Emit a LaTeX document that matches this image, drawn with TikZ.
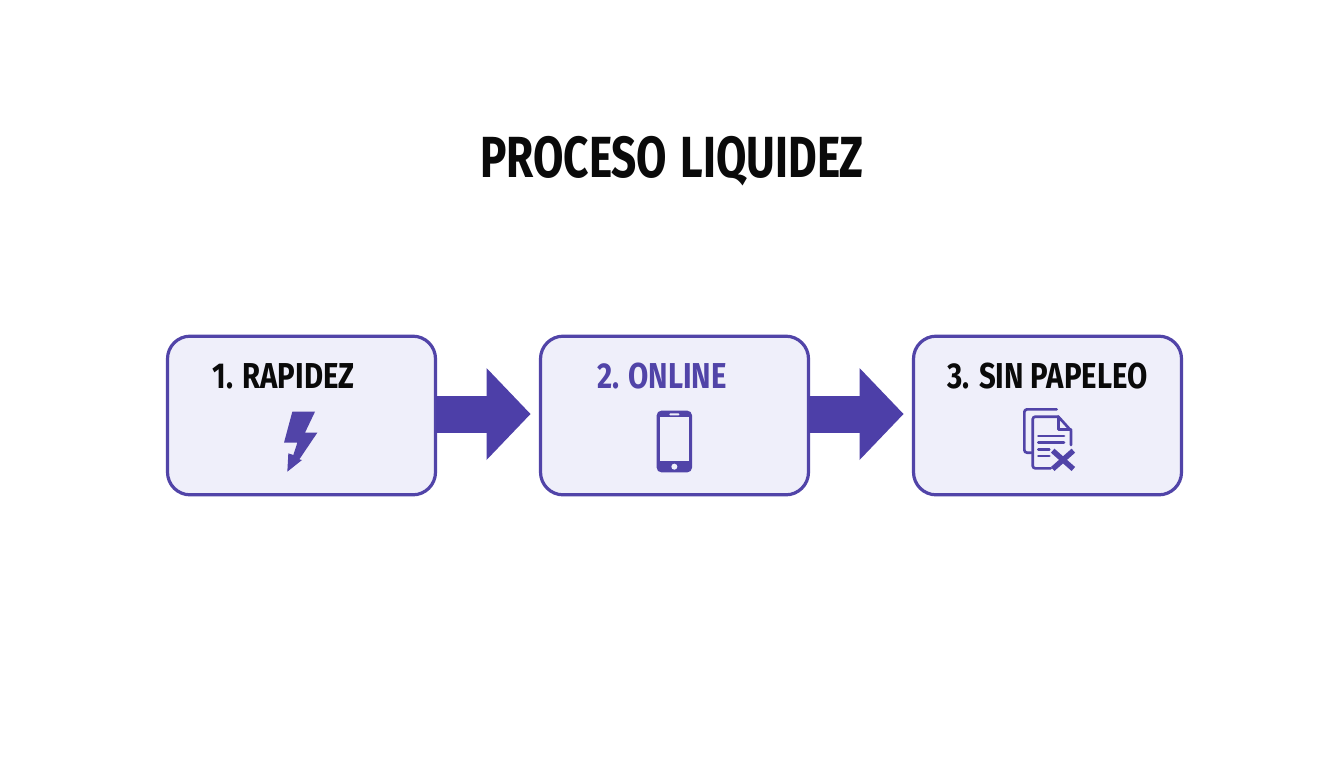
\documentclass[tikz,border=0pt]{standalone}
\usepackage{fontspec}
\setmainfont{Fira Sans}
\newfontfamily\condbold[FakeStretch=0.815]{Fira Sans Bold}
\newfontfamily\titlebold[FakeStretch=0.76,WordSpace=1.3]{Fira Sans Bold}
\usetikzlibrary{arrows.meta,calc}
\definecolor{pv}{HTML}{5144A8}
\definecolor{pfill}{HTML}{EFEFFA}
\definecolor{parrow}{HTML}{4D3FA8}
\definecolor{ink}{HTML}{0A0A0A}
\tikzset{
  card/.style={draw=pv,fill=pfill,line width=2.4pt,rounded corners=17pt,minimum width=201pt,minimum height=119pt,inner sep=0pt,outer sep=0pt},
  cardtext/.style={anchor=base,font=\condbold\fontsize{27}{27}\selectfont,inner sep=0pt,text=ink},
  flow/.style={parrow,line width=27.75pt,-{Triangle[length=33pt,width=69pt,line width=0pt]},shorten >=7.5pt},
  ico/.style={x=.25pt,y=-.25pt},
  docline/.style={draw=pv,line width=2pt,line cap=round,line join=round}
}
\begin{document}
\begin{tikzpicture}[x=.75pt,y=-.75pt]
\useasboundingbox (0,0) rectangle (1344,768);
\fill[white!99!pfill] (0,0) rectangle (1344,768);
\node[anchor=base,font=\titlebold\fontsize{43.5}{43.5}\selectfont,inner sep=0pt,text=ink] (title) at (672,177) {PROCESO LIQUIDEZ};
\node[card] (b1) at (301.5,415.5) {};
\node[card] (b2) at (674.5,415.5) {};
\node[card] (b3) at (1047.5,415.5) {};
\draw[flow] ($(b1.east)+(0,-1.5)$) -- ($(b2.west)+(0,-1.5)$);
\draw[flow] ($(b2.east)+(0,-1.5)$) -- ($(b3.west)+(0,-1.5)$);
\node[cardtext] (t1) at (283.5,388) {1. RAPIDEZ};
\node[cardtext,text=pv] (t2) at (662,388) {2. ONLINE};
\node[cardtext] (t3) at (1047.5,388) {3. SIN PAPELEO};
% bolt
\begin{scope}[shift={(260,400)},ico]
\fill[pv] (97,35)--(165,35)--(135,98)--(172,98)--(118,178)--(126,180)--(82,215)--(85,160)--(100,165)--(112,128)--(72,128)--cycle;
\end{scope}
% phone
\begin{scope}[shift={(630,400)},ico]
\fill[pv,rounded corners=3.5pt] (80,32) rectangle (186,217);
\fill[pfill] (90,50) rectangle (177,184);
\fill[pfill,rounded corners=.7pt] (118,40) rectangle (148,46);
\fill[pfill] (133,200) circle[radius=9];
\end{scope}
% document
\begin{scope}[shift={(1010,400)},ico]
\draw[docline,rounded corners=2pt] (140,28)--(43,28)--(43,158)--(64,158);
\draw[docline,rounded corners=2pt] (122,205)--(68,205)--(68,50)--(145,50);
\draw[docline] (145,50)--(183,92)--(183,135);
\draw[docline] (145,50)--(145,88)--(183,88);
\draw[docline] (85,108)--(162,108) (85,128)--(162,128) (85,148)--(118,148) (85,168)--(118,168);
\draw[pv,line width=4pt] (128,152)--(190,207) (190,152)--(128,207);
\end{scope}
\end{tikzpicture}
\end{document}
